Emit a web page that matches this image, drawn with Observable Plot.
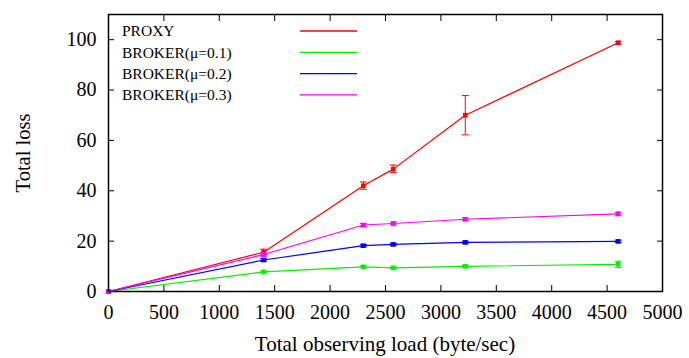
<!DOCTYPE html>
<html>
<head>
<meta charset="utf-8">
<script src="https://cdn.jsdelivr.net/npm/d3@7"></script>
<script src="https://cdn.jsdelivr.net/npm/@observablehq/plot@0.6"></script>
<style>
  html, body { margin: 0; padding: 0; background: #fff; }
  #chart svg { display: block; }
  #chart svg text { font-family: "Liberation Serif", serif; }
</style>
</head>
<body>
<div id="chart"></div>
<script>
// ---- data ----
const loads = [0, 1400, 2300, 2570, 3220, 4600];
const seriesNames = ["PROXY", "BROKER(\u03bc=0.1)", "BROKER(\u03bc=0.2)", "BROKER(\u03bc=0.3)"];
const seriesColors = ["#ff0000", "#00f000", "#0000ff", "#ff00ff"];
const proxy    = [0, 15.6, 42.0, 48.6, 70.0, 98.8];
const proxyLo  = [0, 14.5, 40.6, 47.3, 62.2, 98.3];
const proxyHi  = [0, 16.8, 43.5, 50.2, 77.8, 99.3];
const broker01   = [0, 7.8, 9.8, 9.4, 10.0, 10.8];
const broker01Lo = [0, 7.4, 9.4, 9.0, 9.6, 9.5];
const broker01Hi = [0, 8.2, 10.2, 9.8, 10.4, 12.0];
const broker02   = [0, 12.5, 18.2, 18.7, 19.5, 19.9];
const broker02Lo = [0, 12.0, 17.7, 18.2, 19.0, 19.4];
const broker02Hi = [0, 13.0, 18.7, 19.2, 20.0, 20.4];
const broker03   = [0, 14.7, 26.4, 27.0, 28.7, 30.8];
const broker03Lo = [0, 14.0, 25.8, 26.4, 28.1, 30.1];
const broker03Hi = [0, 15.4, 27.0, 27.6, 29.3, 31.5];
const xTicks = [0, 500, 1000, 1500, 2000, 2500, 3000, 3500, 4000, 4500, 5000];
const yTicks = [0, 20, 40, 60, 80, 100];

const vals = [proxy, broker01, broker02, broker03];
const los = [proxyLo, broker01Lo, broker02Lo, broker03Lo];
const his = [proxyHi, broker01Hi, broker02Hi, broker03Hi];
const rows = [];
seriesNames.forEach((s, i) => loads.forEach((x, j) => rows.push({series: s, x, y: vals[i][j], lo: los[i][j], hi: his[i][j]})));

const capSymbol = {draw(ctx, size) { const w = Math.sqrt(size) / 2; ctx.moveTo(-w, 0); ctx.lineTo(w, 0); }};
const colorOf = d3.scaleOrdinal(seriesNames, seriesColors);
const font = "Liberation Serif";

const marks = [];
seriesNames.forEach((s) => {
  const data = rows.filter(r => r.series === s);
  const c = colorOf(s);
  marks.push(Plot.line(data, {x: "x", y: "y", stroke: c, strokeWidth: 1.2}));
  marks.push(Plot.ruleX(data.filter(d => d.x > 0), {x: "x", y1: "lo", y2: "hi", stroke: c, strokeWidth: 1}));
  marks.push(Plot.dot(data.filter(d => d.x > 0), {x: "x", y: "lo", symbol: capSymbol, r: 3.9, stroke: c, strokeWidth: 1, fill: "none"}));
  marks.push(Plot.dot(data.filter(d => d.x > 0), {x: "x", y: "hi", symbol: capSymbol, r: 3.9, stroke: c, strokeWidth: 1, fill: "none"}));
  marks.push(Plot.dot(data, {x: "x", y: "y", symbol: "square", r: 2.6, fill: c, stroke: "none"}));
});

const plot = Plot.plot({
  width: 689,
  height: 358,
  marginLeft: 108,
  marginRight: 27,
  marginTop: 14,
  marginBottom: 67,
  style: {fontFamily: font, fontSize: "20px", color: "#000", background: "#fff"},
  x: {domain: [0, 5000]},
  y: {domain: [0, 110]},
  marks: [
    Plot.axisX({anchor: "bottom", ticks: xTicks, tickSize: 0, tickPadding: 13, tickFormat: d => String(d), label: null, fontSize: 20, fontFamily: font}),
    Plot.axisX({anchor: "bottom", ticks: xTicks, tickSize: 6, dy: -6, tickFormat: () => "", label: null}),
    Plot.axisX({anchor: "top", ticks: xTicks, tickSize: 6, dy: 6, tickFormat: () => "", label: null}),
    Plot.axisY({anchor: "left", ticks: yTicks, tickSize: 0, tickPadding: 12, tickFormat: d => String(d), label: null, fontSize: 20, fontFamily: font}),
    Plot.axisY({anchor: "left", ticks: yTicks, tickSize: 6, dx: 6, tickFormat: () => "", label: null}),
    Plot.axisY({anchor: "right", ticks: yTicks, tickSize: 6, dx: -6, tickFormat: () => "", label: null}),
    ...marks,
    Plot.frame({stroke: "#000", strokeWidth: 1.5})
  ]
});

document.getElementById("chart").appendChild(plot);

// axis titles and legend (added on the plot's SVG)
const svg = d3.select(plot);
svg.append("text")
  .attr("x", 385).attr("y", 351)
  .attr("text-anchor", "middle")
  .attr("font-family", font).attr("font-size", 21).attr("fill", "#000")
  .text("Total observing load (byte/sec)");
svg.append("text")
  .attr("transform", "translate(30,153) rotate(-90)")
  .attr("text-anchor", "middle")
  .attr("font-family", font).attr("font-size", 20.5).attr("fill", "#000")
  .text("Total loss");
const leg = svg.append("g");
seriesNames.forEach((s, i) => {
  const yy = 31 + i * 21.3;
  leg.append("text")
    .attr("x", 122).attr("y", yy).attr("dy", "0.35em")
    .attr("text-anchor", "start")
    .attr("font-family", font).attr("font-size", 15.5).attr("fill", "#000")
    .text(s);
  leg.append("line")
    .attr("x1", 300).attr("x2", 357).attr("y1", yy).attr("y2", yy)
    .attr("stroke", seriesColors[i]).attr("stroke-width", 1.3);
});
</script>
</body>
</html>
